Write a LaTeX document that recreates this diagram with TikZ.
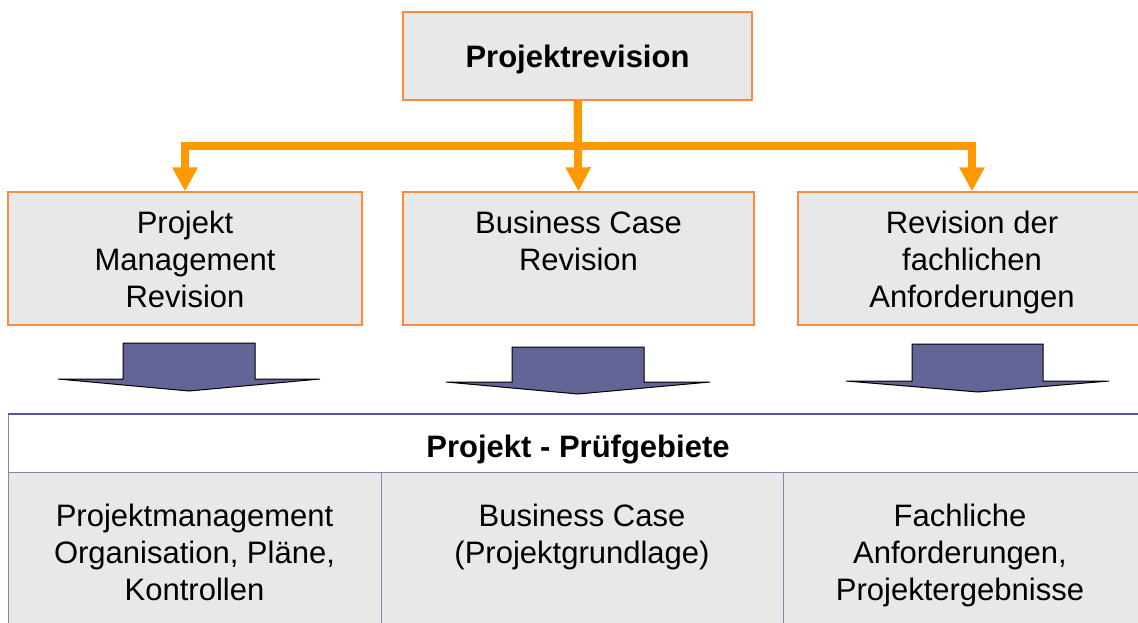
\documentclass[tikz,border=0pt]{standalone}
\usepackage{fontspec}
\setmainfont{Liberation Sans}
\usetikzlibrary{arrows.meta}
\definecolor{boxgray}{HTML}{E8E8E8}
\definecolor{boxorange}{HTML}{FF8A3D}
\definecolor{arroworange}{HTML}{FF9900}
\definecolor{blockblue}{HTML}{646496}
\definecolor{tableline}{HTML}{8484B0}
\definecolor{tabletop}{HTML}{5555AA}
\begin{document}
\begin{tikzpicture}[x=1pt,y=-1pt,
  box/.style={draw=boxorange, line width=1.3pt, fill=boxgray, inner sep=0pt, minimum height=133pt},
  lbl/.style={inner sep=0pt, align=center, anchor=north, font=\fontsize{31}{37}\selectfont},
  boldlbl/.style={inner sep=0pt, align=center, text depth=0pt, font=\bfseries\fontsize{31}{37}\selectfont},
  conn/.style={draw=arroworange, line width=8pt, line join=miter, -{Triangle[width=24pt,length=24pt]}},
  block/.style={draw=black, line width=1pt, fill=blockblue, line join=miter},
  cell/.style={draw=tableline, line width=1.3pt, fill=boxgray, inner sep=0pt, minimum height=160pt},
  head/.style={draw=tableline, line width=1.3pt, fill=white, inner sep=0pt, minimum height=58pt}
]
\useasboundingbox (0,0) rectangle (1138,623);
\clip (0,0) rectangle (1138,623);

% top box
\node[box, minimum width=349pt, minimum height=88pt, text depth=0pt, font=\bfseries\fontsize{31}{37}\selectfont] (top) at (577.5,56) {Projektrevision};

% middle boxes
\node[box, minimum width=354pt] (b1) at (185,258.5) {};
\node[box, minimum width=351pt] (b2) at (578.5,258.5) {};
\node[box, minimum width=348pt] (b3) at (972,258.5) {};
\node[lbl] (t1) at (185,211) {Projekt\\Management\\Revision};
\node[lbl] (t2) at (578.5,211) {Business Case\\Revision};
\node[lbl] (t3) at (972,211) {Revision der\\fachlichen\\Anforderungen};

% connectors
\coordinate (junction) at (577.5,146);
\draw[conn] (top.south) -- (b2.north);
\draw[conn] (top.south) -- (junction) -| (b1.north);
\draw[conn] (top.south) -- (junction) -| (b3.north);

% block arrows
\draw[block] (123,343) -- (255,343) -- (255,379) -- (320,379) -- (189,391) -- (58,379) -- (123,379) -- cycle;
\draw[block] (512,347) -- (644,347) -- (644,382) -- (710,382) -- (578,394) -- (446,382) -- (512,382) -- cycle;
\draw[block] (912,344) -- (1043,344) -- (1043,381) -- (1109,381) -- (978,392) -- (846,381) -- (912,381) -- cycle;

% table
\node[head, minimum width=1150pt, anchor=north west] (hd) at (8,414) {};
\draw[tabletop, line width=1.3pt] (hd.north west) -- (hd.north east);
\node[boldlbl] (ht) at (578,446) {Projekt - Prüfgebiete};
\node[cell, minimum width=373pt, anchor=north west] (c1) at (8,472) {};
\node[cell, minimum width=402pt, anchor=north west] (c2) at (381,472) {};
\node[cell, minimum width=375pt, anchor=north west] (c3) at (783,472) {};
\node[lbl] (ct1) at (194.5,504) {Projektmanagement\\Organisation, Pläne,\\Kontrollen};
\node[lbl] (ct2) at (582,504) {Business Case\\(Projektgrundlage)};
\node[lbl] (ct3) at (960,504) {Fachliche\\Anforderungen,\\Projektergebnisse};
\end{tikzpicture}
\end{document}
